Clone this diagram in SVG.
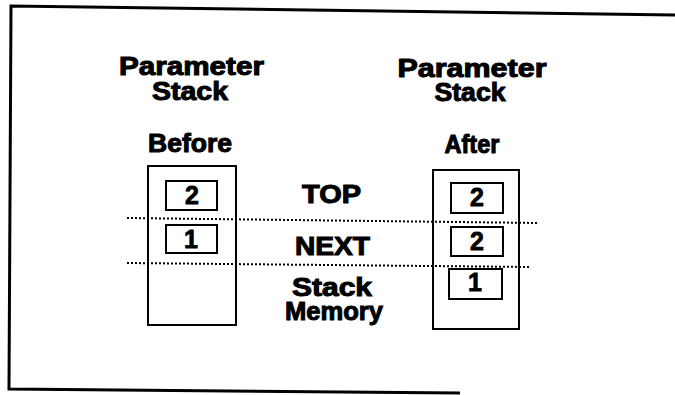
<svg xmlns="http://www.w3.org/2000/svg" width="675" height="395" viewBox="0 0 675 395">
<style>
.t{font-family:"Liberation Sans",Arial,sans-serif;font-weight:bold;font-size:25px;fill:#000;stroke:#000;stroke-width:1;text-anchor:middle}
.d{font-family:"Liberation Sans",Arial,sans-serif;font-weight:bold;font-size:25px;fill:#000;stroke:#000;stroke-width:0.8;text-anchor:middle}
.box{fill:none;stroke:#000;stroke-width:2}
.cell{fill:none;stroke:#000;stroke-width:2}
.dot{fill:none;stroke:#000;stroke-width:2;stroke-dasharray:2 2}
.frame{fill:none;stroke:#000;stroke-width:3}
</style>
<rect width="675" height="395" fill="#fff"/>
<g id="frame">
<polyline class="frame" points="675,15 11,6 9,389 460,393"/>
</g>
<g id="labels">
<text class="t" x="191.5" y="75" textLength="145" lengthAdjust="spacingAndGlyphs">Parameter</text>
<text class="t" x="190" y="100" textLength="76" lengthAdjust="spacingAndGlyphs">Stack</text>
<text class="t" x="190" y="152" textLength="84" lengthAdjust="spacingAndGlyphs">Before</text>
<text class="t" x="472" y="77" textLength="149" lengthAdjust="spacingAndGlyphs">Parameter</text>
<text class="t" x="470" y="101" textLength="71" lengthAdjust="spacingAndGlyphs">Stack</text>
<text class="t" x="472" y="153" textLength="55" lengthAdjust="spacingAndGlyphs">After</text>
<text class="t" x="331.5" y="203" textLength="59" lengthAdjust="spacingAndGlyphs">TOP</text>
<text class="t" x="332.5" y="255" textLength="75" lengthAdjust="spacingAndGlyphs">NEXT</text>
<text class="t" x="332" y="296" textLength="80" lengthAdjust="spacingAndGlyphs">Stack</text>
<text class="t" x="334" y="320" textLength="98" lengthAdjust="spacingAndGlyphs">Memory</text>
</g>
<g id="stack-before">
<rect class="box" x="148" y="166" width="88" height="159"/>
<g id="before-top"><rect class="cell" x="166" y="181" width="51" height="29"/><text class="d" x="192" y="204">2</text></g>
<g id="before-next"><rect class="cell" x="166" y="225" width="51" height="28"/><text class="d" x="191" y="248">1</text></g>
</g>
<g id="stack-after">
<rect class="box" x="433" y="170" width="86" height="159"/>
<g id="after-top"><rect class="cell" x="451" y="183" width="52" height="30"/><text class="d" x="477" y="206">2</text></g>
<g id="after-next"><rect class="cell" x="451" y="227" width="52" height="29"/><text class="d" x="477" y="250">2</text></g>
<g id="after-mem"><rect class="cell" x="449" y="269" width="53" height="30"/><text class="d" x="475" y="291">1</text></g>
</g>
<g id="connectors">
<line class="dot" x1="127" y1="218" x2="538" y2="223"/>
<line class="dot" x1="127" y1="263" x2="529" y2="267"/>
</g>
</svg>
